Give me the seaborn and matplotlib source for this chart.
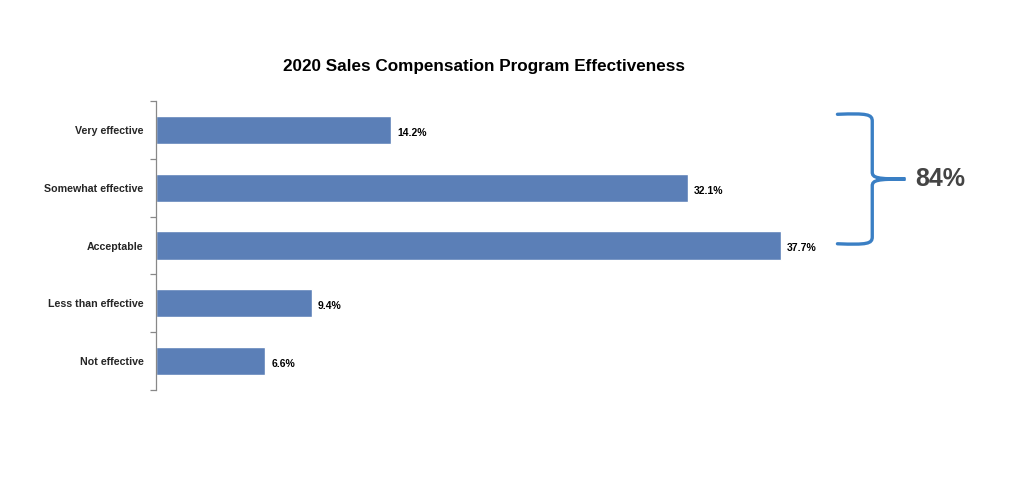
import matplotlib
matplotlib.use("Agg")
import matplotlib.pyplot as plt
from matplotlib.path import Path
from matplotlib.patches import PathPatch
import seaborn as sns
import pandas as pd

# data
categories = ["Very effective", "Somewhat effective", "Acceptable",
              "Less than effective", "Not effective"]
shares = [14.2, 32.1, 37.7, 9.4, 6.6]
title = "2020 Sales Compensation Program Effectiveness"

BAR_COLOR = "#5B7FB7"
BRACE_COLOR = "#3A7FC4"

sns.set_theme(style="white")
plt.rcParams["font.family"] = ["Liberation Sans", "DejaVu Sans"]

df = pd.DataFrame({"category": categories, "share": shares})

fig = plt.figure(figsize=(10.24, 4.79), dpi=100)
ax = fig.add_axes([156 / 1024, 1 - 390 / 479, 829 / 1024, 289 / 479])
sns.barplot(data=df, x="share", y="category", color=BAR_COLOR, width=0.49,
            saturation=1, ax=ax)
ax.set_xlim(0, 50)
ax.set_ylim(len(categories) - 0.5, -0.5)

# value labels
for i, v in enumerate(shares):
    ax.text(v + 0.35, i + 0.05, f"{v:.1f}%", va="center", ha="left",
            fontsize=7.5, fontweight="bold", color="black")

# axis styling: only left spine, ticks between categories
for s in ["top", "right", "bottom"]:
    ax.spines[s].set_visible(False)
ax.spines["left"].set_color("#888888")
ax.spines["left"].set_linewidth(0.9)
ax.set_xticks([])
ax.set_yticks([i - 0.5 for i in range(len(categories) + 1)], minor=False)
ax.set_yticklabels([])
ax.set_yticks(range(len(categories)), minor=True)
ax.set_yticklabels(categories, minor=True, fontsize=7.7, fontweight="bold")
ax.tick_params(axis="y", which="major", length=4, width=0.9, color="#888888", left=True)
ax.tick_params(axis="y", which="minor", length=0, pad=9)
ax.set_xlabel("")
ax.set_ylabel("")

fig.text(484 / 1024, 1 - 66 / 479, title, ha="center", va="center",
         fontsize=12.3, fontweight="bold", color="black")

# curly brace grouping the top three categories
top_total = sum(shares[:3])
x0, x1, xt = 41.1, 43.2, 45.2
y0, y1 = -0.27, 1.97
ym = (y0 + y1) / 2
r = 0.12
verts = [
    (x0, y0), (x1 - 0.3, y0 - 0.02), (x1, y0), (x1, y0 + r),
    (x1, ym - r),
    (x1, ym - 0.02), (x1 + 0.3, ym), (xt, ym),
    (x1 + 0.3, ym), (x1, ym + 0.02), (x1, ym + r),
    (x1, y1 - r),
    (x1, y1), (x1 - 0.3, y1 + 0.02), (x0, y1),
]
codes = [Path.MOVETO, Path.CURVE4, Path.CURVE4, Path.CURVE4,
         Path.LINETO,
         Path.CURVE4, Path.CURVE4, Path.CURVE4,
         Path.CURVE4, Path.CURVE4, Path.CURVE4,
         Path.LINETO,
         Path.CURVE4, Path.CURVE4, Path.CURVE4]
brace = PathPatch(Path(verts, codes), facecolor="none", edgecolor=BRACE_COLOR,
                  linewidth=2.4, clip_on=False, capstyle="round")
ax.add_patch(brace)
ax.text(xt + 0.6, ym, f"{top_total:.0f}%", ha="left", va="center",
        fontsize=18, fontweight="bold", color="#444444", clip_on=False)

fig.savefig("out.png", dpi=100, facecolor="white")
